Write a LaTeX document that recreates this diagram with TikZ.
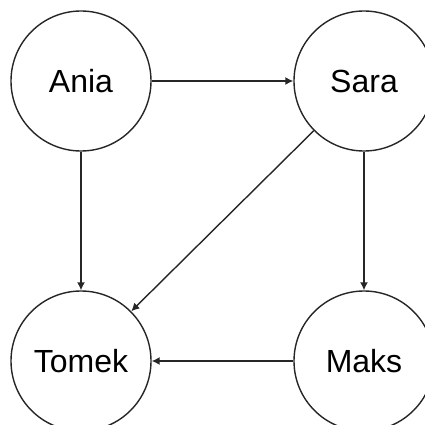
\documentclass[tikz,border=0pt]{standalone}
\usepackage{fontspec}
\setmainfont{Liberation Sans}
\usetikzlibrary{arrows.meta}
\begin{document}
\begin{tikzpicture}[x=1pt,y=1pt,
  person/.style={circle,draw=black!85,line width=1.4pt,minimum size=140pt,inner sep=0pt,font=\fontsize{32}{36}\selectfont},
  link/.style={draw=black!85,line width=1.4pt,-{Latex[length=8pt,width=8pt]}}]
\useasboundingbox (0,0) rectangle (425,424);
\node[person] (ania) at (81,343) {Ania};
\node[person] (sara) at (364,343) {Sara};
\node[person] (tomek) at (81,63) {Tomek};
\node[person] (maks) at (364,63) {Maks};
\draw[link] (ania) -- (sara);
\draw[link] (ania) -- (tomek);
\draw[link] (sara) -- (maks);
\draw[link] (sara) -- (tomek);
\draw[link] (maks) -- (tomek);
\end{tikzpicture}
\end{document}
